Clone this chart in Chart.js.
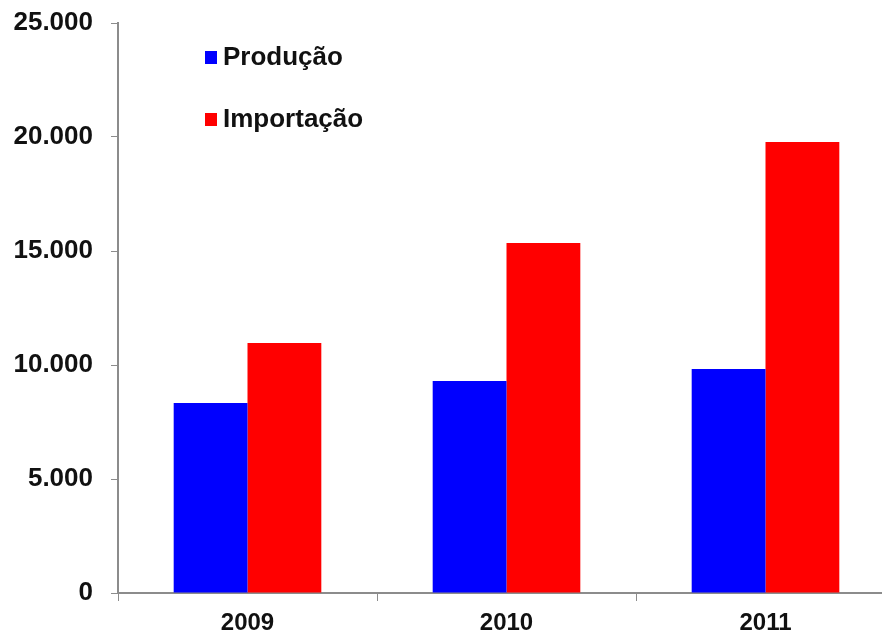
<!DOCTYPE html>
<html>
<head>
<meta charset="utf-8">
<script src="https://cdn.jsdelivr.net/npm/chart.js@4/dist/chart.umd.min.js"></script>
<style>
html,body{margin:0;padding:0;background:#fff;overflow:hidden;}
#wrap{position:relative;width:895px;height:636px;}
</style>
</head>
<body>
<div id="wrap"><canvas id="c"></canvas></div>
<script>
const categories = ['2009', '2010', '2011'];
const producao = [8330, 9300, 9820];
const importacao = [10960, 15350, 19780];
const seriesNames = ['Produção', 'Importação'];
const yTickLabels = ['0', '5.000', '10.000', '15.000', '20.000', '25.000'];

const FONT = "'Liberation Sans', Arial, sans-serif";

const legendPlugin = {
  id: 'customLegend',
  afterDraw(chart) {
    const ctx = chart.ctx;
    const items = chart.data.datasets;
    const rows = [57, 119];
    ctx.save();
    ctx.font = 'bold 26px ' + FONT;
    ctx.textBaseline = 'middle';
    items.forEach((ds, i) => {
      const y = rows[i];
      ctx.fillStyle = ds.backgroundColor;
      ctx.fillRect(205, y - 6, 12, 13);
      ctx.fillStyle = '#111';
      ctx.fillText(ds.label, 223, y + 1);
    });
    ctx.restore();
  }
};

new Chart(document.getElementById('c'), {
  type: 'bar',
  data: {
    labels: categories,
    datasets: [
      { label: seriesNames[0], data: producao, backgroundColor: '#0000FF' },
      { label: seriesNames[1], data: importacao, backgroundColor: '#FF0000' }
    ]
  },
  options: {
    responsive: true,
    maintainAspectRatio: false,
    animation: false,
    layout: { padding: { top: 23, right: 0, left: 0, bottom: 0 } },
    datasets: { bar: { categoryPercentage: 0.57, barPercentage: 1.0 } },
    plugins: { legend: { display: false }, tooltip: { enabled: false } },
    scales: {
      x: {
        grid: { drawOnChartArea: false, drawTicks: true, tickLength: 8, color: '#8c8c8c', offset: true },
        border: { color: '#8c8c8c', width: 2 },
        ticks: { color: '#111', font: { family: FONT, size: 24, weight: 'bold' }, padding: 8 },
        afterFit(scale) { scale.height = 43; scale.paddingLeft = 0; scale.paddingRight = 0; }
      },
      y: {
        min: 0, max: 25000,
        grid: { drawOnChartArea: false, drawTicks: true, tickLength: 7, color: '#8c8c8c' },
        border: { color: '#8c8c8c', width: 2 },
        ticks: {
          stepSize: 5000,
          color: '#111',
          font: { family: FONT, size: 26, weight: 'bold' },
          padding: 18,
          callback: (v) => yTickLabels[Math.round(v / 5000)]
        },
        afterFit(scale) { scale.width = 118; scale.paddingTop = 0; scale.paddingBottom = 0; }
      }
    }
  },
  plugins: [legendPlugin]
});
</script>
</body>
</html>
